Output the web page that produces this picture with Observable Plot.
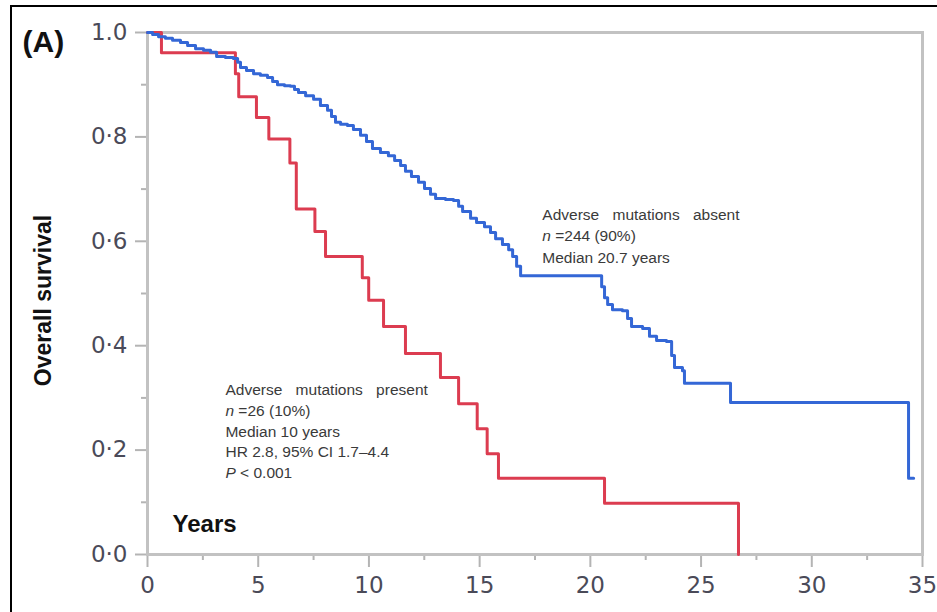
<!DOCTYPE html>
<html>
<head>
<meta charset="utf-8">
<script src="https://cdn.jsdelivr.net/npm/d3@7"></script>
<script src="https://cdn.jsdelivr.net/npm/@observablehq/plot@0.6"></script>
<style>
  html, body { margin: 0; padding: 0; background: #fff; overflow: hidden; }
  #wrap { position: relative; width: 937px; height: 612px; }
  #border { position: absolute; left: 10px; top: 5px; right: -10px; bottom: -10px;
            border-top: 2px solid #000; border-left: 2px solid #000; pointer-events: none; }
</style>
</head>
<body>
<div id="wrap"><div id="border"></div></div>
<script>
// Adverse mutations present (red)
const presentYears = [0, 0.63, 3.97, 4.12, 4.92, 5.48, 6.43, 6.72, 7.56, 8.04, 9.70, 9.99, 10.66, 11.65, 13.23, 14.05, 14.89, 15.34, 15.85, 20.64, 26.69];
const presentSurv  = [1.0, 0.961, 0.921, 0.877, 0.837, 0.796, 0.750, 0.662, 0.619, 0.571, 0.530, 0.487, 0.437, 0.385, 0.339, 0.289, 0.241, 0.193, 0.146, 0.098, 0.0];

// Adverse mutations absent (blue)
const absentYears = [0, 0.23, 0.50, 0.81, 1.13, 1.49, 1.81, 2.17, 2.53, 2.85, 3.12, 3.52, 3.88, 4.07, 4.20, 4.47, 4.79, 5.10, 5.42, 5.65, 5.87, 6.19, 6.46, 6.64, 6.82, 7.14, 7.50, 7.81, 8.13, 8.31, 8.49, 8.72, 9.03, 9.30, 9.62, 9.89, 10.16, 10.52, 10.88, 11.16, 11.43, 11.65, 11.92, 12.24, 12.51, 12.78, 13.01, 13.46, 13.82, 14.05, 14.23, 14.59, 14.86, 15.22, 15.49, 15.72, 16.03, 16.31, 16.49, 16.67, 16.85, 20.51, 20.64, 20.78, 21.00, 21.45, 21.68, 21.86, 22.36, 22.67, 22.99, 23.44, 23.67, 23.80, 24.16, 24.25, 26.33, 34.37, 34.60];
const absentSurv  = [1.0, 0.996, 0.992, 0.989, 0.985, 0.981, 0.975, 0.969, 0.966, 0.962, 0.954, 0.952, 0.950, 0.943, 0.933, 0.927, 0.921, 0.918, 0.914, 0.906, 0.900, 0.898, 0.897, 0.891, 0.885, 0.879, 0.872, 0.860, 0.851, 0.839, 0.828, 0.824, 0.822, 0.814, 0.803, 0.791, 0.778, 0.770, 0.764, 0.755, 0.745, 0.734, 0.724, 0.713, 0.701, 0.690, 0.682, 0.680, 0.678, 0.667, 0.657, 0.644, 0.636, 0.628, 0.617, 0.605, 0.594, 0.584, 0.571, 0.552, 0.534, 0.513, 0.492, 0.479, 0.469, 0.467, 0.452, 0.437, 0.433, 0.418, 0.410, 0.408, 0.381, 0.358, 0.352, 0.328, 0.291, 0.146, 0.146];

// Axis ticks
const xTicks = [0, 5, 10, 15, 20, 25, 30, 35];
const xMinorTicks = [2.5, 7.5, 12.5, 17.5, 22.5, 27.5, 32.5];
const yTicks = [0, 0.2, 0.4, 0.6, 0.8, 1.0];
const yTickLabels = ["0·0", "0·2", "0·4", "0·6", "0·8", "1.0"];
const yMinorTicks = [0.1, 0.3, 0.5, 0.7, 0.9];

// Texts
const absentLines = ["Adverse mutations absent", "n =244 (90%)", "Median 20.7 years"];
const presentLines = ["Adverse mutations present", "n =26 (10%)", "Median 10 years", "HR 2.8, 95% CI 1.7–4.4", "P < 0.001"];
const panelLabel = "(A)";
const yTitle = "Overall survival";
const xTitle = "Years";

const present = presentYears.map((t, i) => ({t, s: presentSurv[i]}));
const absent = absentYears.map((t, i) => ({t, s: absentSurv[i]}));

const gray = "#b4b4b4";
const tickColor = "#4a4a58";

const svg = Plot.plot({
  width: 937,
  height: 612,
  marginLeft: 147,
  marginTop: 32,
  marginRight: 15,
  marginBottom: 58,
  x: {domain: [0, 35]},
  y: {domain: [0, 1]},
  style: {fontFamily: "DejaVu Sans", background: "transparent"},
  marks: [
    Plot.axisX(xMinorTicks, {tickSize: 6, tickFormat: () => "", stroke: gray, strokeWidth: 2, label: null}),
    Plot.axisX(xTicks, {tickSize: 13, tickPadding: 9, fontSize: 23, stroke: gray, strokeWidth: 2, fill: tickColor, label: null, tickFormat: d => String(d)}),
    Plot.axisY(yMinorTicks, {tickSize: 6, tickFormat: () => "", stroke: gray, strokeWidth: 2, label: null}),
    Plot.axisY(yTicks, {tickSize: 12, tickPadding: 8, fontSize: 23, stroke: gray, strokeWidth: 2, fill: tickColor, label: null,
      tickFormat: d => yTickLabels[yTicks.findIndex(v => Math.abs(v - d) < 1e-9)]}),
    Plot.frame({stroke: "#c2c2c2", strokeWidth: 3}),
    Plot.line(present, {x: "t", y: "s", curve: "step-after", stroke: "#dc3c50", strokeWidth: 3}),
    Plot.line(absent, {x: "t", y: "s", curve: "step-after", stroke: "#3467d6", strokeWidth: 3}),
    Plot.text([absentLines.join("\n")], {x: 17.83, y: 0.671, text: d => d, textAnchor: "start", lineAnchor: "top",
      fontFamily: "Liberation Sans", fontSize: 15.5, lineHeight: 1.39, fill: "#3a3a3a"}),
    Plot.text([presentLines.join("\n")], {x: 3.52, y: 0.333, text: d => d, textAnchor: "start", lineAnchor: "top",
      fontFamily: "Liberation Sans", fontSize: 15.5, lineHeight: 1.33, fill: "#3a3a3a"}),
    Plot.text([xTitle], {x: 1.13, y: 0.058, text: d => d, textAnchor: "start", lineAnchor: "middle",
      fontFamily: "Liberation Sans", fontWeight: "bold", fontSize: 24, fill: "#111"}),
    Plot.text([panelLabel], {frameAnchor: "top-left", dx: -125, dy: 10, text: d => d, textAnchor: "start", lineAnchor: "middle",
      fontFamily: "Liberation Sans", fontWeight: "bold", fontSize: 30, fill: "#111"}),
    Plot.text([yTitle], {frameAnchor: "left", dx: -104, dy: 7, rotate: -90, text: d => d, textAnchor: "middle", lineAnchor: "middle",
      fontFamily: "Liberation Sans", fontWeight: "bold", fontSize: 23, fill: "#111"})
  ]
});

d3.select(svg).selectAll("tspan").each(function() {
  const t = this.textContent;
  if (t.startsWith("Adverse")) {
    d3.select(this).style("word-spacing", "9px");
  } else if (t.startsWith("n =") || t.startsWith("P <")) {
    this.textContent = "";
    d3.select(this).append("tspan").attr("font-style", "italic").text(t[0]);
    this.appendChild(document.createTextNode(t.slice(1)));
  }
});

document.getElementById("wrap").prepend(svg);
</script>
</body>
</html>
